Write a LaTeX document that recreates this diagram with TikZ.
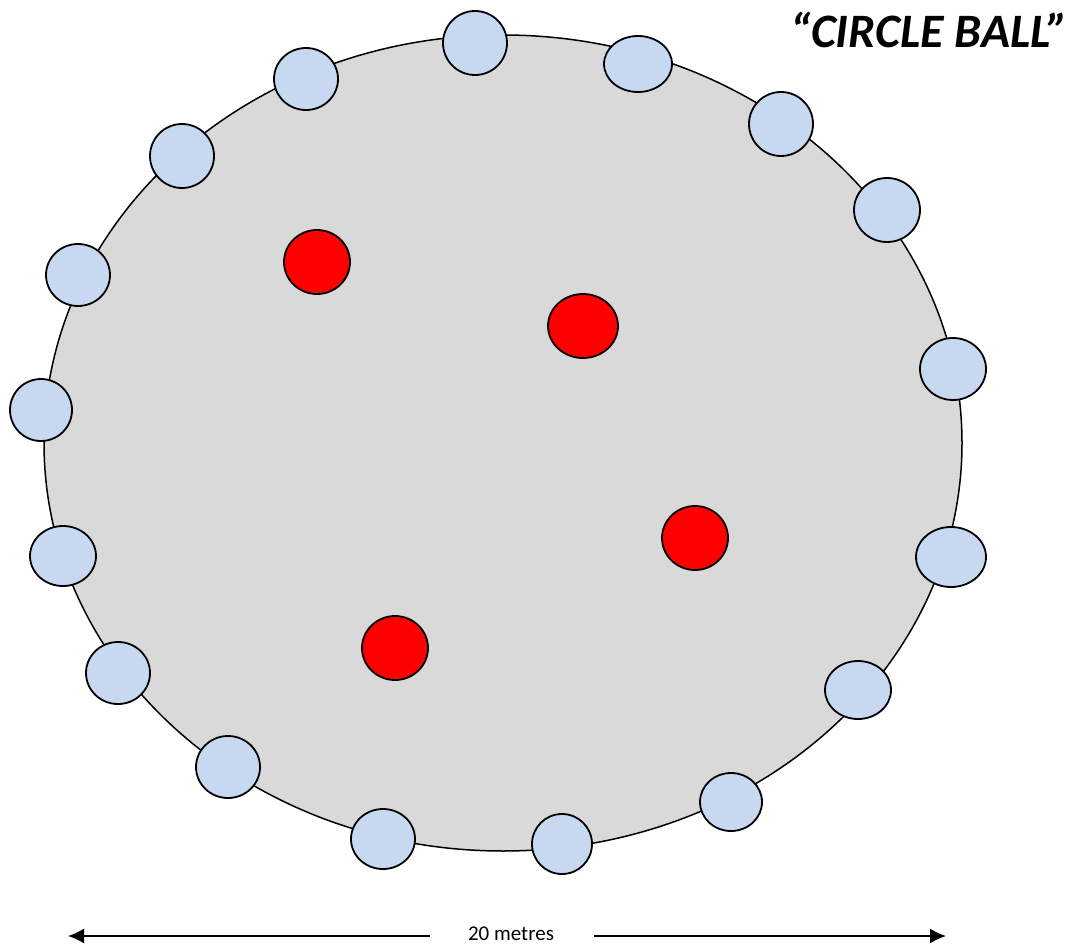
\documentclass[tikz,border=0pt]{standalone}
\usepackage{fontspec}
\setmainfont{Carlito}
\usetikzlibrary{arrows.meta, positioning, shapes.geometric}
\definecolor{fieldgray}{HTML}{D9D9D9}
\definecolor{playerblue}{HTML}{C6D9F1}
\tikzset{field/.style={ellipse,draw,fill=fieldgray,line width=1.5pt,inner sep=0pt},
player/.style={ellipse,draw,fill=playerblue,line width=1.8pt,inner sep=0pt},
tagger/.style={ellipse,draw,fill=red,line width=1.8pt,inner sep=0pt},
line/.style={-{Latex[length=16pt,width=15pt]},line width=1.6pt}}

\begin{document}
\begin{tikzpicture}[x=1pt,y=-1pt]
\useasboundingbox (0,0) rectangle (1075,944);
\node[field, minimum width=918pt, minimum height=816pt] (field) at (503,443) {};
% players on the circle
\node[player, minimum width=64pt, minimum height=64pt] (p1) at (475,43) {};
\node[player, minimum width=68pt, minimum height=56pt] (p2) at (638,64) {};
\node[player, minimum width=64pt, minimum height=64pt] (p3) at (781,124) {};
\node[player, minimum width=66pt, minimum height=64pt] (p4) at (887,210) {};
\node[player, minimum width=66pt, minimum height=62pt] (p5) at (953,369) {};
\node[player, minimum width=70pt, minimum height=60pt] (p6) at (951,557) {};
\node[player, minimum width=66pt, minimum height=58pt] (p7) at (858,690) {};
\node[player, minimum width=62pt, minimum height=58pt] (p8) at (731,802) {};
\node[player, minimum width=60pt, minimum height=60pt] (p9) at (562,844) {};
\node[player, minimum width=64pt, minimum height=60pt] (p10) at (383,839) {};
\node[player, minimum width=64pt, minimum height=62pt] (p11) at (228,767) {};
\node[player, minimum width=64pt, minimum height=62pt] (p12) at (118,673) {};
\node[player, minimum width=66pt, minimum height=60pt] (p13) at (63,556) {};
\node[player, minimum width=62pt, minimum height=62pt] (p14) at (41,410) {};
\node[player, minimum width=64pt, minimum height=62pt] (p15) at (78,275) {};
\node[player, minimum width=64pt, minimum height=64pt] (p16) at (182,156) {};
\node[player, minimum width=64pt, minimum height=62pt] (p17) at (306,79) {};
% taggers in the middle
\node[tagger, minimum width=66pt, minimum height=64pt] (t1) at (317,262) {};
\node[tagger, minimum width=70pt, minimum height=64pt] (t2) at (583,326) {};
\node[tagger, minimum width=66pt, minimum height=64pt] (t3) at (695,538) {};
\node[tagger, minimum width=66pt, minimum height=64pt] (t4) at (395,648) {};
% title and distance
\node[font=\fontsize{48}{52}\selectfont\bfseries\itshape, anchor=base east] (title) at (1072,48) {“CIRCLE BALL”};
\node[font=\fontsize{21}{24}\selectfont, anchor=base, inner sep=0pt] (dist) at (511,940) {20 metres};
\coordinate (leftend) at (68,936);
\coordinate (rightend) at (946,936);
\draw[line] ([xshift=-38pt]dist.west |- leftend) -- (leftend);
\draw[line] ([xshift=40pt]dist.east |- rightend) -- (rightend);
\end{tikzpicture}
\end{document}
